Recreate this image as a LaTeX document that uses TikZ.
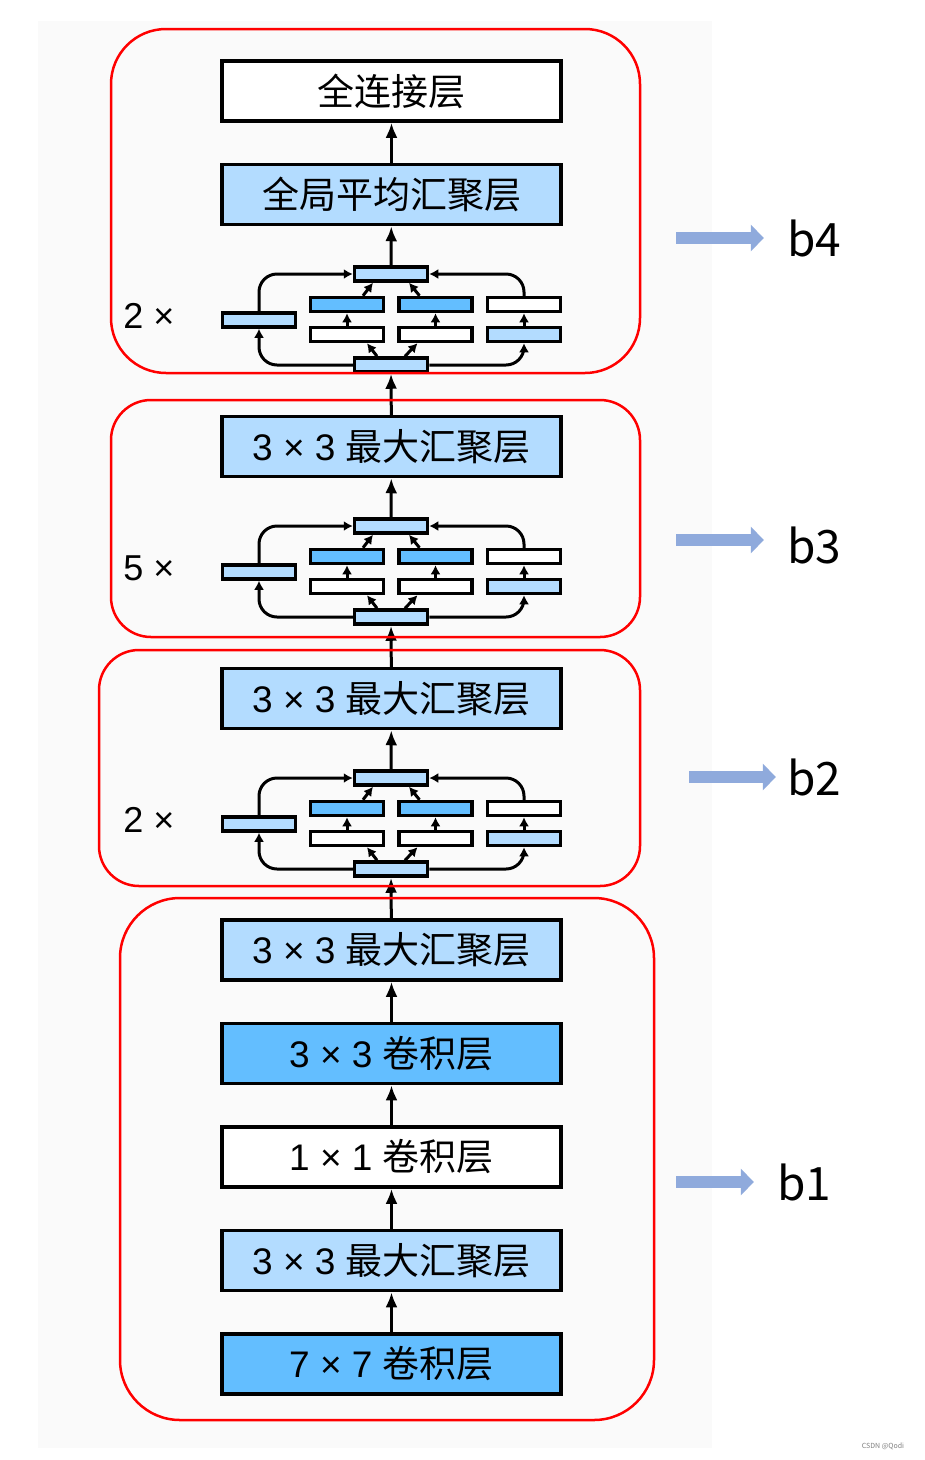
\documentclass[tikz,border=0pt]{standalone}
\usepackage{fontspec}
\setmainfont{Noto Sans CJK SC}
\newfontfamily\latin{Liberation Sans}
\usetikzlibrary{arrows.meta}
\definecolor{lightblue}{RGB}{179,220,255}
\definecolor{darkblue}{RGB}{99,190,255}
\definecolor{paper}{RGB}{250,250,250}
\definecolor{pointerblue}{RGB}{143,170,220}
\tikzset{
  layer/.style={draw, line width=3.5pt, minimum width=339pt, minimum height=60pt,
    inner sep=0pt, font=\fontsize{37}{37}\selectfont},
  unit/.style={draw, line width=3.5pt, minimum width=73pt, minimum height=14pt, inner sep=0pt},
  flow/.style={-{Latex[length=15pt,width=12pt]}, line width=3pt},
  tiny/.style={-{Latex[length=9pt,width=10pt]}, line width=3pt},
  blockframe/.style={draw=red, line width=2.5pt},
  bluepointer/.style={-{Triangle[length=13pt,width=26pt]}, line width=12pt, pointerblue, shorten >=23pt},
  blabel/.style={inner sep=0pt, font=\fontsize{46}{46}\selectfont},
  repeat/.style={font=\latin\fontsize{36}{36}\selectfont}
}
\begin{document}
\begin{tikzpicture}[x=1pt, y=-1pt]
  \useasboundingbox[fill=white] (0,0) rectangle (925,1460);
  \fill[paper] (38,21) rectangle (712,1448);

  % main layers
  \node[layer, fill=white] (fc) at (391.5,91) {全连接层};
  \node[layer, fill=lightblue] (gap) at (391.5,194.5) {全局平均汇聚层};
  \node[layer, fill=lightblue] (pool3) at (391.5,446.5) {{\latin 3 × 3 }最大汇聚层};
  \node[layer, fill=lightblue] (pool2) at (391.5,698.5) {{\latin 3 × 3 }最大汇聚层};
  \node[layer, fill=lightblue] (pool1) at (391.5,950) {{\latin 3 × 3 }最大汇聚层};
  \node[layer, fill=darkblue] (conv3) at (391.5,1053.5) {{\latin 3 × 3 }卷积层};
  \node[layer, fill=white] (conv1) at (391.5,1157) {{\latin 1 × 1 }卷积层};
  \node[layer, fill=lightblue] (pool0) at (391.5,1260.5) {{\latin 3 × 3 }最大汇聚层};
  \node[layer, fill=darkblue] (conv7) at (391.5,1364) {{\latin 7 × 7 }卷积层};

  % inception blocks
  \foreach \k/\y in {4/265,3/517,2/769} {
    \node[unit, fill=lightblue] (in\k-top) at (391,\y+9) {};
    \node[unit, fill=lightblue] (in\k-bot) at (391,\y+100) {};
    \node[unit, fill=lightblue] (in\k-side) at (259,\y+55) {};
    \node[unit, fill=darkblue] (in\k-a1) at (347,\y+39.5) {};
    \node[unit, fill=white] (in\k-a2) at (347,\y+69.5) {};
    \node[unit, fill=darkblue] (in\k-b1) at (435.5,\y+39.5) {};
    \node[unit, fill=white] (in\k-b2) at (435.5,\y+69.5) {};
    \node[unit, fill=white] (in\k-c1) at (524,\y+39.5) {};
    \node[unit, fill=lightblue] (in\k-c2) at (524,\y+69.5) {};
    \draw[tiny, rounded corners=18pt] (in\k-bot.west) -| (in\k-side.south);
    \draw[tiny, rounded corners=18pt] (in\k-bot.east) -| (in\k-c2.south);
    \draw[tiny, rounded corners=18pt] (in\k-side.north) |- (in\k-top.west);
    \draw[tiny, rounded corners=18pt] (in\k-c1.north) |- (in\k-top.east);
    \draw[tiny] ([xshift=-14pt]in\k-bot.north) -- ([xshift=20pt]in\k-a2.south);
    \draw[tiny] ([xshift=14pt]in\k-bot.north) -- ([xshift=-18pt]in\k-b2.south);
    \draw[tiny] (in\k-a2) -- (in\k-a1);
    \draw[tiny] (in\k-b2) -- (in\k-b1);
    \draw[tiny] (in\k-c2) -- (in\k-c1);
    \draw[tiny] ([xshift=16pt]in\k-a1.north) -- ([xshift=-18pt]in\k-top.south);
    \draw[tiny] ([xshift=-16pt]in\k-b1.north) -- ([xshift=18pt]in\k-top.south);
  }
  \node[repeat] (rep4) at (149,316) {2 ×};
  \node[repeat] (rep3) at (149,568) {5 ×};
  \node[repeat] (rep2) at (149,820) {2 ×};

  % data flow
  \begin{scope}[flow]
    \draw (gap) -- (fc);
    \draw (in4-top) -- (gap);
    \draw (pool3) -- (in4-bot);
    \draw (in3-top) -- (pool3);
    \draw (pool2) -- (in3-bot);
    \draw (in2-top) -- (pool2);
    \draw (pool1) -- (in2-bot);
    \draw (conv3) -- (pool1);
    \draw (conv1) -- (conv3);
    \draw (pool0) -- (conv1);
    \draw (conv7) -- (pool0);
  \end{scope}

  % blocks
  \draw[blockframe, rounded corners=55pt] (111,29) rectangle (640,373);
  \draw[blockframe, rounded corners=40pt] (111,400) rectangle (640,637);
  \draw[blockframe, rounded corners=40pt] (99,650) rectangle (640,886);
  \draw[blockframe, rounded corners=60pt] (120,898) rectangle (654,1420);

  \node[blabel] (b4) at (814,238) {b4};
  \node[blabel] (b3) at (814,545) {b3};
  \node[blabel] (b2) at (814,777) {b2};
  \node[blabel] (b1) at (804,1182) {b1};
  \coordinate (p4) at (676,238);
  \coordinate (p3) at (676,540);
  \coordinate (p2) at (689,777);
  \coordinate (p1) at (676,1182);
  \draw[bluepointer] (p4) -- (p4 -| b4.west);
  \draw[bluepointer] (p3) -- (p3 -| b3.west);
  \draw[bluepointer, shorten >=11pt] (p2) -- (p2 -| b2.west);
  \draw[bluepointer] (p1) -- (p1 -| b1.west);

  \node[gray, font=\fontsize{7}{7}\selectfont] (mark) at (883,1446) {CSDN @Qodi};
\end{tikzpicture}
\end{document}
